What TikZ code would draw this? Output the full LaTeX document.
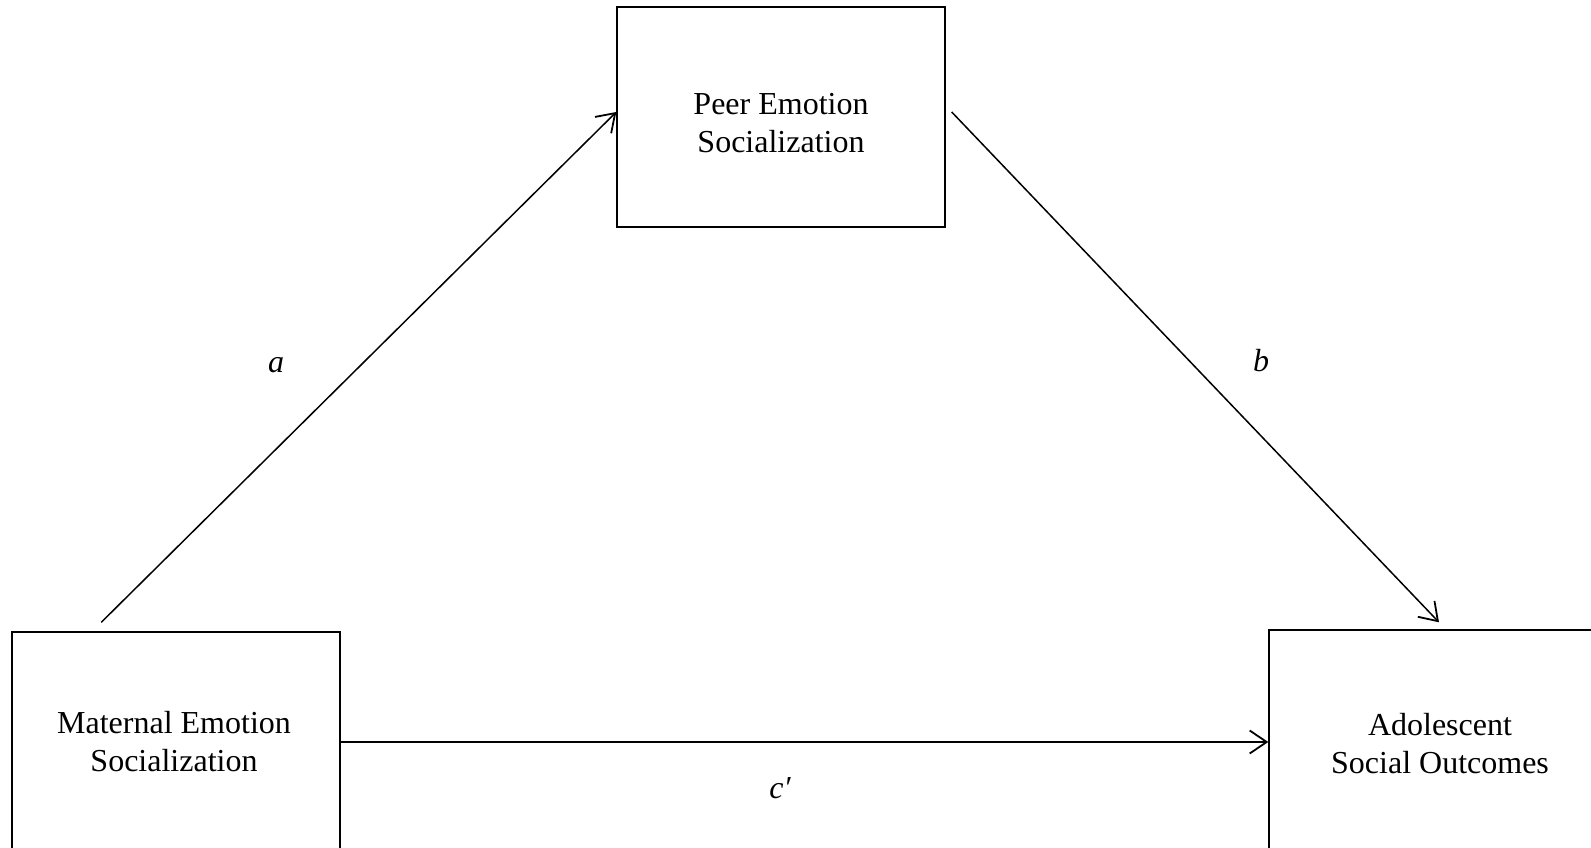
\documentclass[tikz,border=0pt]{standalone}
\usepackage{fontspec}
\setmainfont{Liberation Serif}
\usetikzlibrary{arrows.meta,calc}
\begin{document}
\begin{tikzpicture}[x=1pt,y=-1pt,
  box/.style={draw,line width=1.4pt,inner sep=0pt,minimum width=328pt,minimum height=220pt},
  txt/.style={inner sep=0pt,align=center,font=\fontsize{32}{38}\selectfont},
  conn/.style={line width=1.5pt,-{Straight Barb[length=17pt,width=23pt,line width=1.8pt]}},
  lab/.style={font=\fontsize{32}{38}\selectfont\itshape}]
\useasboundingbox (0,0) rectangle (1591,848);
\clip (0,0) rectangle (1591,848);
\fill[white] (0,0) rectangle (1591,848);
\node[box] (mat) at (176,742) {};
\node[txt] (mattext) at (174,742) {Maternal Emotion\\Socialization};
\node[box] (peer) at (781,117) {};
\node[txt] (peertext) at (781,123) {Peer Emotion\\Socialization};
\node[box,minimum width=342pt,minimum height=224pt] (ado) at (1440,742) {};
\node[txt] (adotext) at (1440,744) {Adolescent\\Social Outcomes};
\draw[conn] ($(mat.north west)+(90,-9)$) -- ($(peer.west)+(0,-5)$);
\draw[conn] ($(peer.east)+(6,-5)$) -- ($(ado.north)+(-1,-7)$);
\draw[conn] (mat.east) -- (ado.west);
\node[lab] (la) at (276,365) {a};
\node[lab] (lb) at (1261,361) {b};
\node[lab] (lc) at (780,788) {c′};
\end{tikzpicture}
\end{document}
